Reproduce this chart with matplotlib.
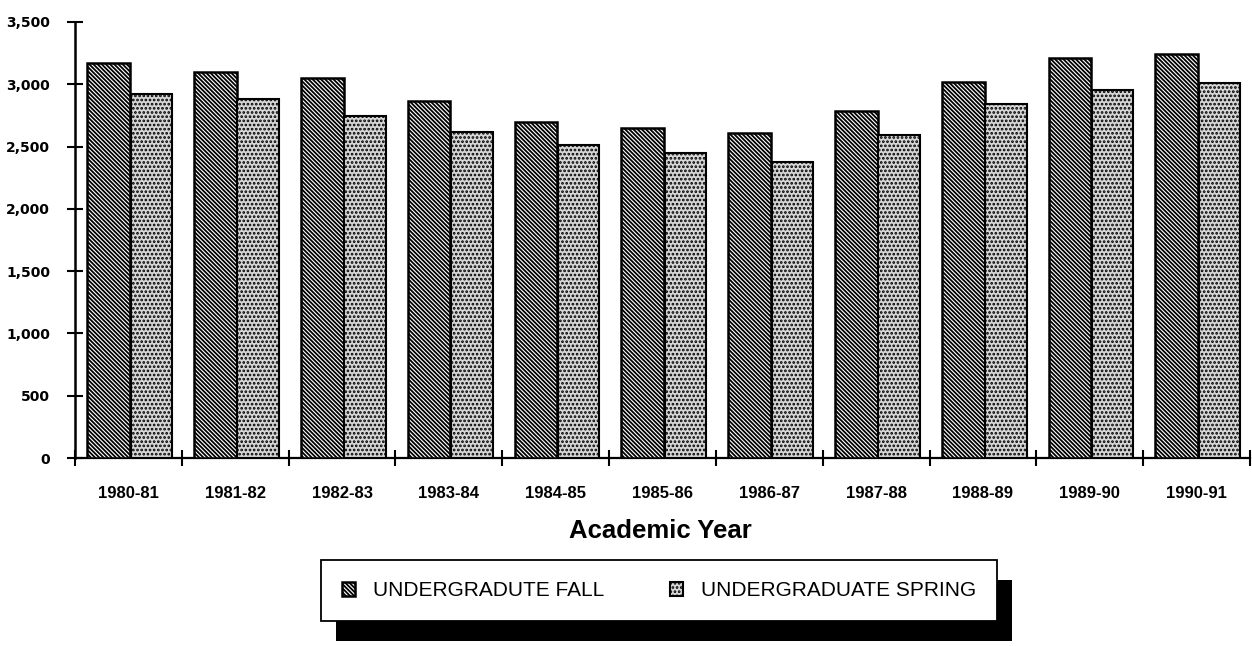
import numpy as np
import matplotlib
matplotlib.use("Agg")
import matplotlib.pyplot as plt
from matplotlib.patches import Rectangle
from matplotlib.ticker import FuncFormatter, FixedLocator

# ---- data ----
years = ["1980-81", "1981-82", "1982-83", "1983-84", "1984-85", "1985-86",
         "1986-87", "1987-88", "1988-89", "1989-90", "1990-91"]
fall = [3170, 3100, 3050, 2865, 2700, 2650, 2605, 2785, 3015, 3215, 3245]
spring = [2925, 2885, 2745, 2620, 2510, 2445, 2380, 2595, 2845, 2955, 3010]
series_names = ["UNDERGRADUTE FALL", "UNDERGRADUATE SPRING"]
y_ticks = [0, 500, 1000, 1500, 2000, 2500, 3000, 3500]
x_title = "Academic Year"

plt.rcParams['hatch.linewidth'] = 1.3
plt.rcParams['font.family'] = ['Liberation Sans', 'DejaVu Sans']

W, H = 1252, 646
fig = plt.figure(figsize=(W / 100, H / 100), dpi=100)
fig.patch.set_facecolor("white")

left_px, right_px, top_px, bot_px = 75, 1250, 22, 458
ax = fig.add_axes([left_px / W, 1 - bot_px / H, (right_px - left_px) / W, (bot_px - top_px) / H])

x = np.arange(len(years))
bw = 0.40
ax.bar(x - 0.185, fall, width=bw, facecolor="white", edgecolor="black",
       hatch="\\" * 8, linewidth=1.8, label=series_names[0], zorder=3)
ax.bar(x + 0.215, spring, width=bw * 0.97, facecolor="#d6d6d6", edgecolor="black",
       hatch="....", linewidth=1.5, label=series_names[1], zorder=3)

ax.set_xlim(-0.5, len(years) - 0.5)
ax.set_ylim(0, 3500)
for s in ["top", "right"]:
    ax.spines[s].set_visible(False)
ax.spines["left"].set_linewidth(1.8)
ax.spines["bottom"].set_linewidth(1.6)

ax.yaxis.set_major_locator(FixedLocator(y_ticks))
ax.yaxis.set_major_formatter(FuncFormatter(lambda v, p: f"{int(v):,}"))
ax.tick_params(axis="y", direction="inout", length=12, width=1.5, pad=12)
for lab in ax.get_yticklabels():
    lab.set_fontfamily("DejaVu Sans")
    lab.set_fontweight("bold")
    lab.set_fontsize(10)

ax.set_xticks(x)
ax.set_xticklabels(years, fontsize=12, fontweight="bold")
ax.tick_params(axis="x", which="major", length=0, pad=20)
ax.set_xticks(np.arange(len(years) + 1) - 0.5, minor=True)
ax.tick_params(axis="x", which="minor", direction="inout", length=11, width=1.5)

ax.set_xlabel(x_title, fontsize=18.5, fontweight="bold")
ax.xaxis.set_label_coords(0.498, -0.168)
ax.xaxis.label.set_va("center")

# legend
bx0, bx1, by0, by1 = 321, 997, 556, 625
leg = fig.legend(loc="center", ncol=2, mode="expand",
                 bbox_to_anchor=(bx0 / W, 1 - by1 / H, (bx1 - bx0) / W, (by1 - by0) / H),
                 prop={"family": "Liberation Sans", "size": 15},
                 frameon=True, fancybox=False, framealpha=1, edgecolor="black",
                 borderpad=1.0, handlelength=0.65, handleheight=0.65,
                 handletextpad=0.85, borderaxespad=0)
leg.get_frame().set_linewidth(1.3)
leg.set_zorder(5)

fig.canvas.draw()
bb = leg.get_window_extent()
dx, dy = 15, 20
shadow = Rectangle(((bb.x0 + dx) / W, (bb.y0 - dy) / H), bb.width / W, bb.height / H,
                   transform=fig.transFigure, facecolor="black", edgecolor="none", zorder=4)
fig.add_artist(shadow)

fig.savefig("out.png", dpi=100, facecolor="white")
